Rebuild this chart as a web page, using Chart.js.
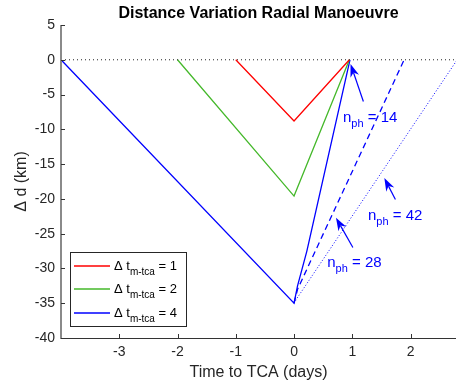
<!DOCTYPE html>
<html>
<head>
<meta charset="utf-8">
<script src="https://cdn.jsdelivr.net/npm/chart.js@4/dist/chart.umd.min.js"></script>
<style>
  html, body { margin: 0; padding: 0; background: #fff; }
  #wrap { width: 456px; height: 388px; }
</style>
</head>
<body>
<div id="wrap"><canvas id="chart" width="456" height="388"></canvas></div>
<script>
// tick labels
const xTicks = [-3, -2, -1, 0, 1, 2];
const yTicks = [5, 0, -5, -10, -15, -20, -25, -30, -35, -40];

// series (days to TCA, km)
const zeroX = [-4, 2.78];
const zeroY = [0, 0];
const redX = [-1, 0, 0.95];
const redY = [0, -8.8, 0];
const greenX = [-2, 0, 0.95];
const greenY = [0, -19.6, 0];
const blueX = [-4, 0, 0.06, 0.22, 0.96];
const blueY = [0, -35, -32.5, -27.5, 0];
const blueDashX = [0, 0.06, 1.89];
const blueDashY = [-35, -33, 0];
const blueDotX = [0, 0.05, 2.8];
const blueDotY = [-35, -34.3, 0];

const legendValues = ['1', '2', '4'];
const phaseLabels = ['14', '28', '42'];
// text anchor and arrow tail/tip, in data units
const phaseTextX = [0.84, 0.57, 1.27];
const phaseTextY = [-8.3, -29.2, -22.4];
const arrowFromX = [1.19, 1.01, 1.74];
const arrowFromY = [-6.0, -27.0, -20.1];
const arrowToX = [0.97, 0.72, 1.55];
const arrowToY = [-0.6, -22.7, -17.0];

const FONT = '"Liberation Sans", Arial, Helvetica, sans-serif';
const RED = '#ff0000', GREEN = '#44b82a', BLUE = '#0000ff';

function pts(xs, ys) {
  return xs.map((x, i) => ({ x: x, y: ys[i] }));
}

function lineSet(xs, ys, color, dash, width) {
  return {
    data: pts(xs, ys),
    borderColor: color,
    borderWidth: width || 1.3,
    borderDash: dash || [],
    pointRadius: 0,
    tension: 0,
    fill: false
  };
}

function drawParts(ctx, x, y, parts, color) {
  ctx.fillStyle = color;
  ctx.textBaseline = 'alphabetic';
  ctx.textAlign = 'left';
  parts.forEach(p => {
    ctx.font = p.size + 'px ' + FONT;
    ctx.fillText(p.t, x, y + (p.dy || 0));
    x += ctx.measureText(p.t).width;
  });
}

function arrow(ctx, x0, y0, x1, y1, color) {
  const a = Math.atan2(y1 - y0, x1 - x0);
  const len = 13, half = 4.5;
  const c = Math.cos(a), s = Math.sin(a);
  ctx.strokeStyle = color;
  ctx.fillStyle = color;
  ctx.lineWidth = 1.2;
  ctx.setLineDash([]);
  ctx.beginPath();
  ctx.moveTo(x0, y0);
  ctx.lineTo(x1 - c * len * 0.7, y1 - s * len * 0.7);
  ctx.stroke();
  ctx.beginPath();
  ctx.moveTo(x1, y1);
  ctx.lineTo(x1 - c * len - s * half, y1 - s * len + c * half);
  ctx.lineTo(x1 - c * len * 0.7, y1 - s * len * 0.7);
  ctx.lineTo(x1 - c * len + s * half, y1 - s * len - c * half);
  ctx.closePath();
  ctx.fill();
}

const decorations = {
  id: 'decorations',
  afterDraw(chart) {
    const ctx = chart.ctx;
    const area = chart.chartArea;
    const xs = chart.scales.x, ys = chart.scales.y;
    ctx.save();

    // axes, MATLAB style ticks pointing inward
    ctx.setLineDash([]);
    ctx.strokeStyle = '#8a8a8a';
    ctx.lineWidth = 2;
    ctx.beginPath();
    ctx.moveTo(area.left, area.top);
    ctx.lineTo(area.left, area.bottom + 1);
    ctx.stroke();
    ctx.strokeStyle = '#333';
    ctx.lineWidth = 1;
    ctx.beginPath();
    ctx.moveTo(area.left, area.bottom + 0.5);
    ctx.lineTo(area.right, area.bottom + 0.5);
    xTicks.forEach(v => {
      const px = Math.round(xs.getPixelForValue(v)) + 0.5;
      ctx.moveTo(px, area.bottom);
      ctx.lineTo(px, area.bottom - 4);
    });
    yTicks.forEach(v => {
      const py = Math.round(ys.getPixelForValue(v)) + 0.5;
      ctx.moveTo(area.left, py);
      ctx.lineTo(area.left + 4, py);
    });
    ctx.stroke();

    // title and axis titles
    const cx = (area.left + area.right) / 2;
    ctx.fillStyle = '#000';
    ctx.textAlign = 'center';
    ctx.textBaseline = 'middle';
    ctx.font = 'bold 16px ' + FONT;
    ctx.fillText('Distance Variation Radial Manoeuvre', cx, 14);
    ctx.fillStyle = '#262626';
    ctx.font = '16px ' + FONT;
    ctx.fillText('Time to TCA (days)', cx, 373);
    ctx.save();
    ctx.translate(22, (area.top + area.bottom) / 2);
    ctx.rotate(-Math.PI / 2);
    ctx.fillText('\u0394 d (km)', 0, 0);
    ctx.restore();

    // n_ph annotations
    phaseLabels.forEach((lab, i) => {
      arrow(ctx,
        xs.getPixelForValue(arrowFromX[i]), ys.getPixelForValue(arrowFromY[i]),
        xs.getPixelForValue(arrowToX[i]), ys.getPixelForValue(arrowToY[i]), BLUE);
      drawParts(ctx, xs.getPixelForValue(phaseTextX[i]), ys.getPixelForValue(phaseTextY[i]) + 4, [
        { t: 'n', size: 15 },
        { t: 'ph', size: 11, dy: 5 },
        { t: ' = ' + lab, size: 15 }
      ], BLUE);
    });

    // legend
    const colors = [RED, GREEN, BLUE];
    const bx = 70, by = 252, bw = 116, bh = 74;
    ctx.fillStyle = '#fff';
    ctx.fillRect(bx, by, bw, bh);
    ctx.strokeStyle = '#262626';
    ctx.lineWidth = 1;
    ctx.strokeRect(bx + 0.5, by + 0.5, bw, bh);
    legendValues.forEach((v, i) => {
      const ly = 265.5 + i * 23.5;
      ctx.strokeStyle = colors[i];
      ctx.lineWidth = 1.6;
      ctx.beginPath();
      ctx.moveTo(74, Math.round(ly));
      ctx.lineTo(110, Math.round(ly));
      ctx.stroke();
      drawParts(ctx, 114, ly + 4, [
        { t: '\u0394 t', size: 13 },
        { t: 'm-tca', size: 10, dy: 5 },
        { t: ' = ' + v, size: 13 }
      ], '#000');
    });

    ctx.restore();
  }
};

new Chart(document.getElementById('chart'), {
  type: 'line',
  data: {
    datasets: [
      lineSet(zeroX, zeroY, '#222', [1, 3], 1),
      lineSet(redX, redY, RED),
      lineSet(greenX, greenY, GREEN),
      lineSet(blueX, blueY, BLUE),
      lineSet(blueDashX, blueDashY, BLUE, [6, 4]),
      lineSet(blueDotX, blueDotY, BLUE, [1, 2], 1)
    ]
  },
  options: {
    responsive: false,
    animation: false,
    devicePixelRatio: 1,
    layout: { padding: { top: 25, right: 0, bottom: 0, left: 0 } },
    plugins: {
      legend: { display: false },
      tooltip: { enabled: false }
    },
    scales: {
      x: {
        type: 'linear',
        min: -4,
        max: 2.78,
        afterBuildTicks: s => { s.ticks = xTicks.map(v => ({ value: v })); },
        afterFit: s => { s.height = 50; },
        grid: { display: false, drawTicks: false },
        border: { display: false },
        ticks: {
          color: '#262626',
          padding: 6,
          maxRotation: 0,
          font: { family: FONT, size: 14 },
          callback: v => String(v)
        }
      },
      y: {
        type: 'linear',
        min: -40,
        max: 5,
        afterBuildTicks: s => { s.ticks = yTicks.map(v => ({ value: v })); },
        afterFit: s => { s.width = 61; },
        grid: { display: false, drawTicks: false },
        border: { display: false },
        ticks: {
          color: '#262626',
          padding: 6,
          font: { family: FONT, size: 14 },
          callback: v => String(v)
        }
      }
    }
  },
  plugins: [decorations]
});
</script>
</body>
</html>
